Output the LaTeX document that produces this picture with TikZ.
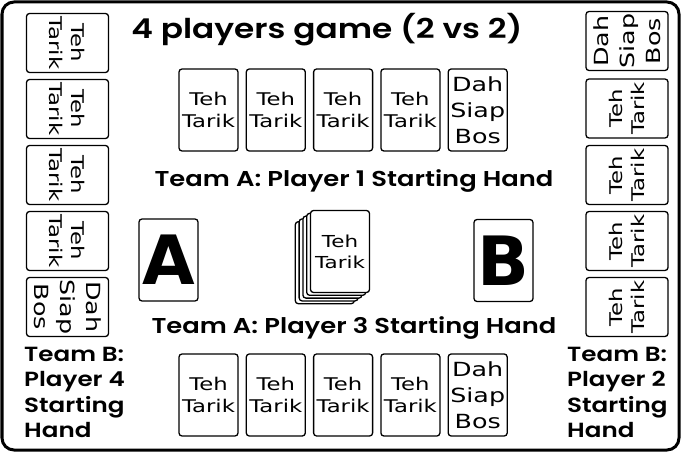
\documentclass[tikz,border=0pt]{standalone}
\usepackage{fontspec}
\setmainfont{Poppins}
\newfontfamily\headfont{Poppins SemiBold}[FakeStretch=1.2]
\newfontfamily\cardfont{DejaVu Sans}[FakeStretch=1.3]
\newfontfamily\letterfont{DejaVu Sans}
\usetikzlibrary{positioning}

\tikzset{
  card/.style={draw, line width=1.3pt, rounded corners=3pt, fill=white,
    minimum width=59pt, minimum height=82pt, inner sep=0pt, align=center,
    font=\cardfont\fontsize{17.5}{22}\selectfont},
  bigcard/.style={card, font=\cardfont\fontsize{19.5}{26}\selectfont},
  lettercard/.style={card, text width=59pt, font=\letterfont\bfseries\fontsize{68}{68}\selectfont},
  teamlabel/.style={font=\headfont\fontsize{21.5}{25.3}\selectfont, inner sep=0pt},
}

\begin{document}
\begin{tikzpicture}[x=1pt, y=-1pt]
\useasboundingbox (0,0) rectangle (681,452);
% table border
    \draw[line width=3pt, rounded corners=12pt, fill=white] (2,2) rectangle (679,450);
    \node[font=\headfont\fontsize{27.3}{30}\selectfont] (title) at (327,30) {4 players game (2 vs 2)};
% player 1 (top row)
    \node[card] (p1a) at (208.5,110) {Teh\\Tarik};
    \node[card, right=7pt of p1a] (p1b) {Teh\\Tarik};
    \node[card, right=7pt of p1b] (p1c) {Teh\\Tarik};
    \node[card, right=7pt of p1c] (p1d) {Teh\\Tarik};
    \node[bigcard, right=7pt of p1d] (p1e) {Dah\\Siap\\Bos};
    \node[teamlabel] (lab1) at (354,181) {Team A: Player 1 Starting Hand};
% player 3 (bottom row)
    \node[card] (p3a) at (208.5,395) {Teh\\Tarik};
    \node[card, right=7pt of p3a] (p3b) {Teh\\Tarik};
    \node[card, right=7pt of p3b] (p3c) {Teh\\Tarik};
    \node[card, right=7pt of p3c] (p3d) {Teh\\Tarik};
    \node[bigcard, right=7pt of p3d] (p3e) {Dah\\Siap\\Bos};
    \node[teamlabel] (lab3) at (354,328) {Team A: Player 3 Starting Hand};
% player 4 (left column)
    \foreach \y/\n in {43/a,109/b,175/c,241/d}
      \node[card, rotate=-90] (p4\n) at (67.5,\y) {Teh\\Tarik};
    \node[bigcard, rotate=-90] (p4e) at (67.5,307) {Dah\\Siap\\Bos};
    \node[teamlabel, font=\headfont\fontsize{20.5}{25.3}\selectfont, anchor=north west, align=left] (lab4) at (24,347) {Team B:\\Player 4\\Starting\\Hand};
% player 2 (right column)
    \node[bigcard, rotate=90] (p2a) at (627,41) {Dah\\Siap\\Bos};
    \foreach \y/\n in {108.5/b,175/c,241/d,307/e}
      \node[card, rotate=90] (p2\n) at (627,\y) {Teh\\Tarik};
    \node[teamlabel, font=\headfont\fontsize{20.5}{25.3}\selectfont, anchor=north west, align=left] (lab2) at (567,347) {Team B:\\Player 2\\Starting\\Hand};
% deck in the middle
    \foreach \k in {4,3,2,1}
      \node[card] (deck\k) at (340-3.8*\k,251.5+2.8*\k) {};
    \node[card, font=\cardfont\fontsize{16.5}{21}\selectfont] (deck) at (340,251.5) {Teh\\Tarik};
% team cards
    \node[lettercard] (teamA) at (168.5,260) {A};
    \node[lettercard] (teamB) at (503.5,260.5) {B};
\end{tikzpicture}
\end{document}
